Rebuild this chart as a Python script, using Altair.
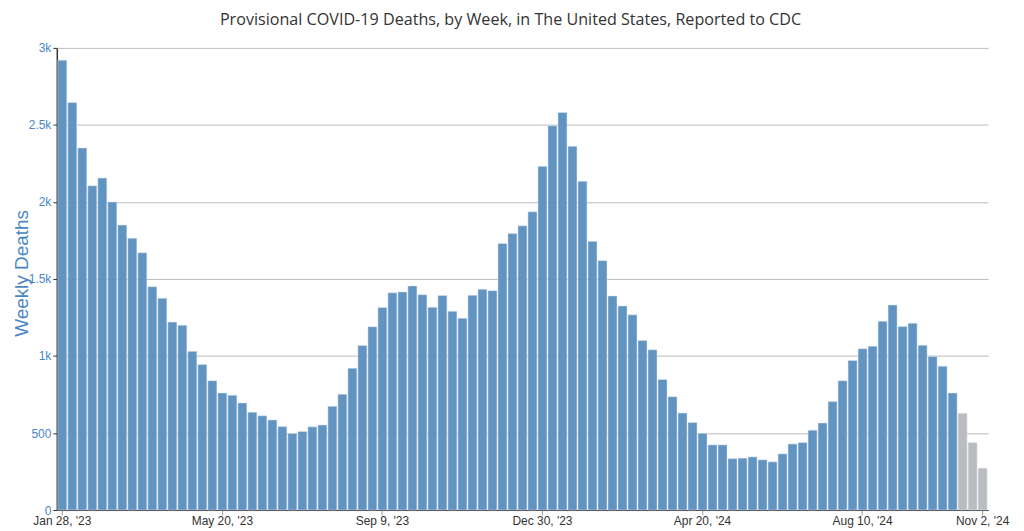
import altair as alt
import pandas as pd

# Week-ending dates (one bar per week)
week_dates = pd.date_range("2023-01-28", periods=93, freq="7D")
week_iso = [d.strftime("%Y-%m-%d") for d in week_dates]

deaths = [
    2920, 2645, 2350, 2105, 2155, 2000, 1850, 1765, 1670, 1450,
    1375, 1220, 1200, 1030, 945, 840, 760, 745, 695, 635,
    612, 585, 542, 497, 510, 540, 552, 673, 752, 921,
    1068, 1190, 1314, 1410, 1416, 1455, 1398, 1316, 1392, 1290,
    1245, 1394, 1433, 1424, 1731, 1795, 1845, 1936, 2231, 2495,
    2581, 2361, 2134, 1744, 1619, 1390, 1325, 1267, 1101, 1040,
    848, 736, 630, 568, 498, 423, 423, 334, 337, 345,
    326, 313, 365, 429, 438, 518, 565, 704, 839, 971,
    1047, 1064, 1226, 1331, 1191, 1213, 1070, 997, 934, 760,
    628, 438, 272,
]

status = ["Reported"] * 90 + ["Provisional"] * 3

tick_dates = ["2023-01-28", "2023-05-20", "2023-09-09", "2023-12-30",
              "2024-04-20", "2024-08-10", "2024-11-02"]
tick_labels = ["Jan 28, '23", "May 20, '23", "Sep 9, '23", "Dec 30, '23",
               "Apr 20, '24", "Aug 10, '24", "Nov 2, '24"]
y_ticks = [0, 500, 1000, 1500, 2000, 2500, 3000]

PLOT_W, PLOT_H = 935, 464

df = pd.DataFrame({"week": week_iso, "deaths": deaths, "status": status})
ticks_df = pd.DataFrame({"week": tick_dates, "label": tick_labels})

x_enc = alt.X(
    "week:O",
    sort=week_iso,
    scale=alt.Scale(paddingInner=0.1, paddingOuter=0.1),
    axis=alt.Axis(
        title=None,
        values=tick_dates,
        labels=False,
        tickColor="#999999",
        tickSize=5,
        domainColor="#333333",
        domainWidth=1,
        grid=False,
    ),
)

bars = (
    alt.Chart(df)
    .mark_bar(stroke="#dfe8f2", strokeWidth=0.5)
    .encode(
        x=x_enc,
        y=alt.Y(
            "deaths:Q",
            scale=alt.Scale(domain=[0, 3000], nice=False),
            axis=alt.Axis(
                title="Weekly Deaths",
                titleFont="Liberation Sans",
                titleFontSize=19,
                titleFontWeight="normal",
                titleColor="#4a86c5",
                titleX=-35,
                titleY=226,
                titleAngle=270,
                titleAlign="center",
                titleBaseline="middle",
                values=y_ticks,
                labelExpr="datum.value >= 1000 ? (datum.value / 1000) + 'k' : datum.value + ''",
                labelFont="Liberation Sans",
                labelFontSize=12,
                labelColor="#4a86c5",
                labelPadding=2,
                tickColor="#333333",
                tickSize=4,
                domainColor="#333333",
                domainWidth=1.5,
                gridColor="#bbbbbb",
                gridWidth=1,
            ),
        ),
        color=alt.Color(
            "status:N",
            scale=alt.Scale(domain=["Reported", "Provisional"],
                            range=["#6294c2", "#bbbcc0"]),
            legend=None,
        ),
    )
)

labels = (
    alt.Chart(ticks_df)
    .mark_text(font="Liberation Sans", fontSize=12, color="#333333",
               baseline="middle", align="center")
    .encode(
        x=alt.X("week:O", sort=week_iso),
        y=alt.value(PLOT_H + 11),
        text="label:N",
    )
)

chart = (
    alt.layer(bars, labels)
    .properties(
        width=PLOT_W,
        height=PLOT_H,
        title=alt.TitleParams(
            "Provisional COVID-19 Deaths, by Week, in The United States, Reported to CDC",
            font="Open Sans",
            fontSize=16.2,
            fontWeight="normal",
            color="#333333",
            anchor="middle",
            offset=14,
            dx=-12,
        ),
        autosize=alt.AutoSizeParams(type="none"),
        padding={"left": 49, "top": 39, "right": 28, "bottom": 20},
    )
    .configure_view(stroke=None)
)

chart.save("out.html", embed_options={"renderer": "svg", "actions": False})
